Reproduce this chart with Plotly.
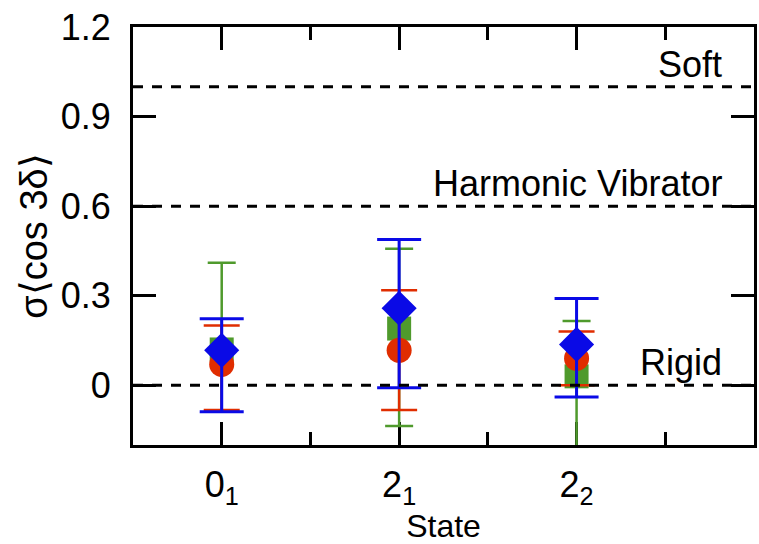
import plotly.graph_objects as go

# Nuclear states on the horizontal axis
state_labels = ["0<sub>1</sub>", "2<sub>1</sub>", "2<sub>2</sub>"]
state_pos = [1, 2, 3]

# sigma<cos 3delta> per state: central value with upper / lower bounds
green_val = [0.12, 0.19, 0.03]
green_hi = [0.41, 0.457, 0.215]
green_lo = [-0.085, -0.136, -0.25]

red_val = [0.07, 0.117, 0.09]
red_hi = [0.20, 0.318, 0.18]
red_lo = [-0.083, -0.083, 0.0]

blue_val = [0.117, 0.258, 0.137]
blue_hi = [0.223, 0.488, 0.291]
blue_lo = [-0.089, -0.008, -0.039]

# Reference limits drawn as dashed lines
ref_levels = [1.0, 0.6, 0.0]
ref_names = ["Soft", "Harmonic Vibrator", "Rigid"]

y_ticks = [0, 0.3, 0.6, 0.9, 1.2]
y_ticktext = ["0", "0.3", "0.6", "0.9", "1.2"]

FONT = "Liberation Sans, Arial, Helvetica, sans-serif"

series = [
    ("green", green_val, green_hi, green_lo, "#4f9a2c", "square", 24, 2.5, 14),
    ("red", red_val, red_hi, red_lo, "#e02d00", "circle", 25, 2.5, 18),
    ("blue", blue_val, blue_hi, blue_lo, "#0a0ae6", "diamond", 27, 3, 22),
]

fig = go.Figure()
for name, val, hi, lo, color, symbol, size, thick, capw in series:
    fig.add_trace(go.Scatter(
        x=state_pos, y=val, mode="markers", name=name, showlegend=False,
        marker=dict(symbol=symbol, size=size, color=color, line=dict(width=0)),
        error_y=dict(
            type="data", symmetric=False,
            array=[h - v for h, v in zip(hi, val)],
            arrayminus=[v - l for v, l in zip(val, lo)],
            color=color, thickness=thick, width=capw,
        ),
        cliponaxis=True,
    ))

for level, label in zip(ref_levels, ref_names):
    fig.add_shape(type="line", xref="paper", x0=0, x1=1, yref="y", y0=level, y1=level,
                  line=dict(color="black", width=3, dash="10px,9px"), layer="above")
    fig.add_annotation(xref="paper", x=0.951, yref="y", y=level, text=label,
                       showarrow=False, xanchor="right", yanchor="bottom", yshift=0,
                       font=dict(family=FONT, size=36, color="black"))

axis_common = dict(
    showline=True, linecolor="black", linewidth=3, mirror="ticks",
    ticks="inside", tickcolor="black", tickwidth=3, ticklen=23,
    showgrid=False, zeroline=False, layer="below traces",
    tickfont=dict(family=FONT, size=36, color="black"),
)

fig.update_layout(
    width=759, height=544,
    margin=dict(l=133, r=2, t=27, b=99),
    paper_bgcolor="white", plot_bgcolor="white",
    xaxis=dict(
        range=[0.5, 4.0], tickvals=state_pos, ticktext=state_labels,
        ticklabelstandoff=6,
        minor=dict(tickvals=[1.5, 2.5, 3.5], ticks="inside", ticklen=13,
                   tickwidth=3, tickcolor="black", showgrid=False),
        title=dict(text="State", font=dict(family=FONT, size=32, color="black"), standoff=2),
        **axis_common,
    ),
    yaxis=dict(
        range=[-0.2, 1.2], tickvals=y_ticks, ticktext=y_ticktext,
        ticklabelstandoff=12,
        title=dict(text="σ⟨cos 3δ⟩", font=dict(family=FONT, size=38, color="black"), standoff=2),
        **axis_common,
    ),
)

fig.write_html("out.html")
